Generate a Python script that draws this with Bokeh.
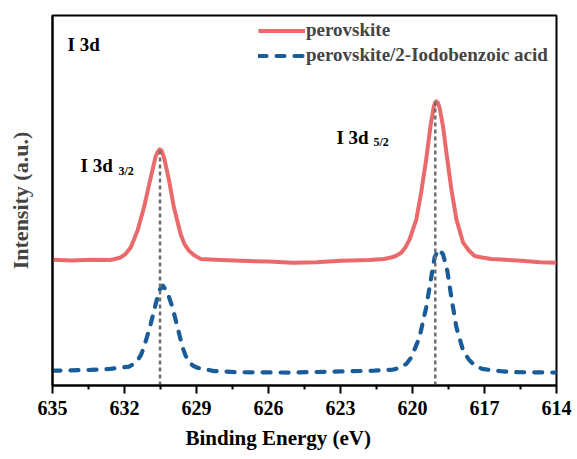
from bokeh.plotting import figure
from bokeh.models import Range1d, FixedTicker, Legend, LegendItem, Label, ColumnDataSource, Title
from bokeh.embed import file_html
from bokeh.resources import INLINE

# ---- data (binding energy in eV, intensity in a.u.) ----
red_ev = [635.00, 634.20, 633.40, 632.60, 632.40, 632.16, 631.95, 631.74, 631.46, 631.19,
          630.91, 630.70, 630.60, 630.53, 630.45, 630.35, 630.14, 629.94, 629.66, 629.50,
          629.31, 629.10, 628.82, 628.00, 627.15, 626.00, 625.00, 624.00, 622.98, 621.80,
          621.20, 620.89, 620.70, 620.47, 620.30, 620.12, 619.84, 619.64, 619.43, 619.25,
          619.11, 619.05, 619.01, 618.94, 618.87, 618.73, 618.55, 618.38, 618.17, 617.89,
          617.65, 617.41, 617.10, 616.71, 615.46, 614.70, 614.00]
red_int = [34.0, 33.8, 34.0, 33.9, 34.2, 34.6, 35.6, 37.3, 41.8, 48.1,
           56.1, 62.0, 63.3, 63.8, 63.4, 61.5, 55.3, 48.1, 40.9, 38.2,
           36.4, 35.2, 34.2, 33.9, 33.7, 33.5, 33.2, 33.3, 33.7, 33.9,
           34.2, 34.6, 35.0, 35.9, 37.3, 39.5, 44.9, 52.1, 61.1, 70.1,
           75.5, 76.5, 76.8, 76.4, 75.0, 70.1, 61.1, 53.0, 44.9, 38.6,
           36.5, 35.0, 34.6, 34.2, 33.7, 33.3, 33.2]

blue_ev = [635.00, 633.41, 632.58, 631.81, 631.65, 631.46, 631.32, 631.19, 630.91, 630.70,
           630.56, 630.40, 630.21, 630.00, 629.79, 629.58, 629.45, 629.31, 629.15, 628.96,
           628.27, 627.29, 625.06, 622.98, 621.59, 620.80, 620.47, 620.25, 620.05, 619.71,
           619.43, 619.22, 619.08, 618.91, 618.73, 618.55, 618.38, 618.17, 617.89, 617.65,
           617.41, 617.10, 616.58, 615.74, 614.00]
blue_int = [4.0, 4.2, 4.5, 5.1, 5.7, 6.7, 8.2, 10.3, 16.6, 22.0,
            25.6, 27.0, 25.1, 21.1, 15.7, 10.3, 8.0, 6.3, 5.4, 4.8,
            3.9, 3.6, 3.5, 3.8, 4.0, 4.3, 4.9, 5.9, 7.6, 13.0,
            21.1, 29.2, 34.6, 36.8, 35.5, 31.0, 23.8, 15.7, 9.4, 7.0,
            5.4, 4.5, 4.0, 3.6, 3.5]

peak_ev = [630.52, 619.05]
peak_top = [63.8, 76.8]

x_ticks = [635, 632, 629, 626, 623, 620, 617, 614]
x_minor = [633.5, 630.5, 627.5, 624.5, 621.5, 618.5, 615.5]

series_names = ["perovskite", "perovskite/2-Iodobenzoic acid"]

FONT = "Liberation Serif"
RED = "#EA6A6B"
BLUE = "#1A5C98"

p = figure(width=577, height=459, output_backend="svg", toolbar_location=None,
           x_range=Range1d(635, 614), y_range=Range1d(0, 100),
           min_border_left=52, min_border_right=21, min_border_top=15, min_border_bottom=74)

p.xgrid.visible = False
p.ygrid.visible = False
p.outline_line_color = "black"
p.outline_line_width = 2
p.background_fill_color = "white"
p.border_fill_color = "white"

r_blue = p.line(blue_ev, blue_int, line_color=BLUE, line_width=4.2, line_dash="8 10",
                line_cap="round", line_join="round")
r_red = p.line(red_ev, red_int, line_color=RED, line_width=4, line_join="round")

ref_src = ColumnDataSource(dict(x=peak_ev, top=peak_top, bottom=[0, 0]))
p.segment(x0="x", y0="bottom", x1="x", y1="top", source=ref_src,
          line_color="#6E6E6E", line_width=2.5, line_dash="4 3")

xa = p.xaxis[0]
xa.ticker = FixedTicker(ticks=x_ticks, minor_ticks=x_minor)
xa.axis_line_width = 2
xa.major_tick_out = 8
xa.major_tick_in = 0
xa.minor_tick_out = 4
xa.minor_tick_in = 0
xa.major_tick_line_width = 2
xa.minor_tick_line_width = 2
xa.major_label_standoff = 7
xa.major_label_text_font = FONT
xa.major_label_text_font_style = "bold"
xa.major_label_text_font_size = "20px"
xa.major_label_text_color = "black"

ya = p.yaxis[0]
ya.ticker = FixedTicker(ticks=[])
ya.axis_line_width = 2
ya.major_tick_line_color = None
ya.minor_tick_line_color = None
ya.axis_label = "Intensity (a.u.)"
ya.axis_label_text_font = FONT
ya.axis_label_text_font_style = "bold"
ya.axis_label_text_font_size = "22px"
ya.axis_label_standoff = 20

# x-axis title (slightly left of centre, as in the reference)
p.add_layout(Title(text="Binding Energy (eV)", align="left", offset=133, standoff=13,
                   text_font=FONT, text_font_style="bold", text_font_size="21px",
                   text_color="black"), "below")

legend = Legend(items=[LegendItem(label=series_names[0], renderers=[r_red]),
                       LegendItem(label=series_names[1], renderers=[r_blue])],
                location=(206, 319), border_line_color=None, background_fill_alpha=0,
                padding=0, margin=0, spacing=3, glyph_width=47, glyph_height=21,
                label_height=21, label_standoff=1, label_text_font=FONT,
                label_text_font_style="bold", label_text_font_size="19px")
p.add_layout(legend)

def add_label(x, y, text, size):
    p.add_layout(Label(x=x, y=y, text=text, text_font=FONT, text_font_style="bold",
                       text_font_size=size, text_color="black", text_baseline="alphabetic"))

add_label(634.37, 92.2, "I 3d", "19px")
add_label(633.83, 59.5, "I 3d", "19px")
add_label(632.25, 58.1, "3/2", "12px")
add_label(623.17, 67.1, "I 3d", "19px")
add_label(621.63, 65.7, "5/2", "12px")

open("out.html", "w").write(file_html(p, INLINE))
